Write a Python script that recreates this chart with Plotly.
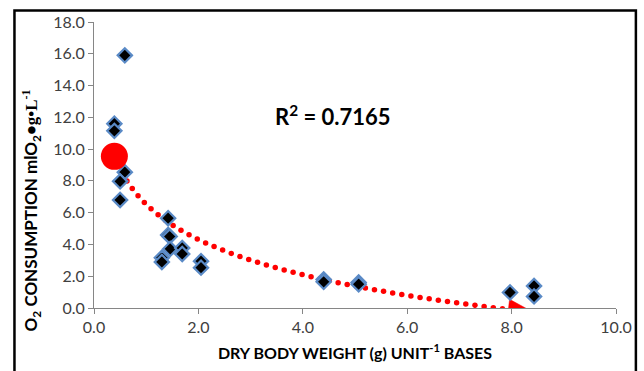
import numpy as np
import plotly.graph_objects as go

# Data
dry_weight = [0.59, 0.39, 0.39, 0.59, 0.50, 0.50, 1.42, 1.42, 1.45, 1.46, 1.30, 1.30,
              1.69, 1.69, 2.05, 2.05, 4.40, 4.40, 5.07, 5.07, 7.97, 8.43, 8.43]
o2_consumption = [15.9, 11.6, 11.15, 8.55, 7.97, 6.8, 5.65, 4.6, 4.5, 3.72, 3.16, 2.9,
                  3.78, 3.4, 2.95, 2.54, 1.8, 1.65, 1.6, 1.5, 0.98, 1.39, 0.73]
# Logarithmic trendline y = intercept + slope*ln(x), coefficients
trend_intercept = 6.53
trend_slope = -3.2
r_squared_label = "R<sup>2</sup> = 0.7165"
x_ticks = [0, 2, 4, 6, 8, 10]
y_ticks = [0, 2, 4, 6, 8, 10, 12, 14, 16, 18]

# Layout geometry
W, H = 644, 371
ML, MR, MT, MB = 94, 25, 20, 62
X_RANGE = [0, 10]
Y_RANGE = [0, 18]
pw, ph = W - ML - MR, H - MT - MB
sx = pw / (X_RANGE[1] - X_RANGE[0])   # px per x unit
sy = ph / (Y_RANGE[1] - Y_RANGE[0])   # px per y unit

xs = np.array(dry_weight)
tx = np.linspace(xs.min(), xs.max(), 2000)
ty = trend_intercept + trend_slope * np.log(tx)

# round dots evenly spaced along the curve (in pixel space)
px_, py_ = tx * sx, ty * sy
seg = np.hypot(np.diff(px_), np.diff(py_))
cum = np.concatenate([[0], np.cumsum(seg)])
spacing = 9.3
d = np.arange(0, cum[-1] - 20, spacing)
dot_x = np.interp(d, cum, tx)
dot_y = np.interp(d, cum, ty)

# arrowhead at the end of the trendline
T = np.array([px_[-1], py_[-1]])
u = np.array([px_[-2] - px_[-1], py_[-2] - py_[-1]])
u /= np.hypot(*u)
n = np.array([-u[1], u[0]])
L_arrow, W_arrow = 26, 10.5
c1 = T + L_arrow * u + W_arrow * n
c2 = T + L_arrow * u - W_arrow * n
arrow_x = [T[0] / sx, c1[0] / sx, c2[0] / sx, T[0] / sx]
arrow_y = [T[1] / sy, c1[1] / sy, c2[1] / sy, T[1] / sy]

fig = go.Figure()
fig.add_trace(go.Scatter(x=dot_x, y=dot_y, mode="markers",
                         marker=dict(color="#ff0000", size=5.5, line=dict(width=0)),
                         hoverinfo="skip", showlegend=False))
fig.add_trace(go.Scatter(x=arrow_x, y=arrow_y, mode="lines", fill="toself", fillcolor="#ff0000",
                         line=dict(color="#ff0000", width=0.5), hoverinfo="skip", showlegend=False))
fig.add_trace(go.Scatter(x=dry_weight, y=o2_consumption, mode="markers",
                         marker=dict(symbol="diamond", color="black", size=11,
                                     line=dict(color="#5a8ac6", width=2.2)),
                         showlegend=False))
# line begin oval of the trendline
fig.add_trace(go.Scatter(x=[tx[0]], y=[ty[0]], mode="markers",
                         marker=dict(color="#ff0000", size=27, line=dict(width=0)),
                         hoverinfo="skip", showlegend=False))

FONT = "Lato, Open Sans, sans-serif"
axis_common = dict(showgrid=False, zeroline=False, showline=True, linecolor="#868686",
                   linewidth=1, ticks="outside", ticklen=5, tickcolor="#868686",
                   tickfont=dict(family=FONT, size=16, color="#404040"))
fig.update_xaxes(range=X_RANGE, tickvals=x_ticks, ticktext=[f"{v:.1f}" for v in x_ticks],
                 title=dict(text="<b>DRY BODY WEIGHT (g) UNIT<sup>-1</sup> BASES</b>",
                            font=dict(family=FONT, size=16, color="black"), standoff=12),
                 **axis_common)
fig.update_yaxes(range=Y_RANGE, tickvals=y_ticks, ticktext=[f"{v:.1f}" for v in y_ticks],
                 **axis_common)

fig.add_annotation(xref="paper", yref="paper", x=(31 - ML) / pw, y=(H - MB - 210) / ph,
                   text="<b>O<sub>2</sub> CONSUMPTION mlO<sub>2</sub>•"
                        "<span style='font-family:Liberation Serif'>g•L<sup>-1</sup></span></b>",
                   textangle=-90, showarrow=False, xanchor="center", yanchor="middle",
                   font=dict(family=FONT, size=17, color="black"))

fig.add_annotation(x=4.57, y=12.1, xref="x", yref="y", text="<b>" + r_squared_label + "</b>",
                   showarrow=False, font=dict(family=FONT, size=22, color="black"))

fig.add_shape(type="rect", xref="paper", yref="paper",
              x0=(14 - ML) / pw, x1=(639 - ML) / pw, y0=(H - MB - 400) / ph, y1=(H - MB - 8.5) / ph,
              line=dict(color="black", width=2.5), layer="above")

fig.update_layout(width=W, height=H, margin=dict(l=ML, r=MR, t=MT, b=MB),
                  plot_bgcolor="white", paper_bgcolor="white")
fig.write_html("out.html", config={"displayModeBar": False},
               post_script="document.body.style.margin='0';")
